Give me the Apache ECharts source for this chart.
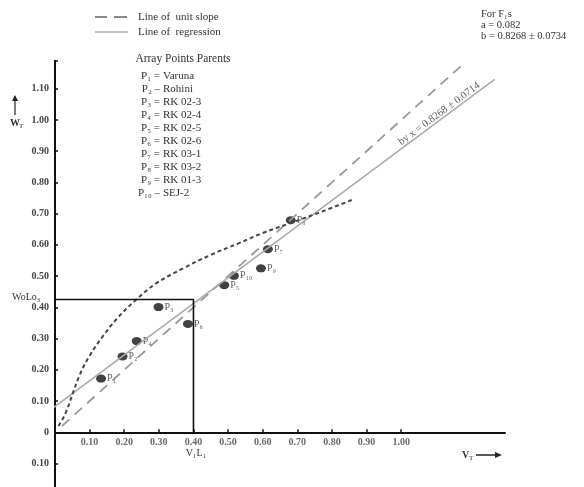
<!DOCTYPE html>
<html><head><meta charset="utf-8">
<script src="https://cdn.jsdelivr.net/npm/echarts@6/dist/echarts.min.js"></script>
<style>html,body{margin:0;padding:0;background:#fff}#c{width:584px;height:487px}</style>
</head><body><div id="c"></div>
<script>
// ---- data ----
var ptX = [0.133, 0.195, 0.236, 0.299, 0.384, 0.489, 0.517, 0.595, 0.615, 0.681];
var ptY = [0.172, 0.243, 0.292, 0.401, 0.347, 0.471, 0.501, 0.525, 0.586, 0.679];
var ptNames = ['P₁', 'P₂', 'P₄', 'P₃', 'P₆', 'P₅', 'P₁₀', 'P₉', 'P₇', 'P₈'];
var unitX = [0.02, 1.18];
var unitY = [0.02, 1.18];
var regX = [-0.044, 1.27];
var regY = [0.046, 1.13];
var curveX = [0.01, 0.03, 0.07, 0.10, 0.14, 0.18, 0.23, 0.29, 0.37, 0.45, 0.53, 0.60, 0.68, 0.76, 0.86];
var curveY = [0.02, 0.06, 0.18, 0.245, 0.31, 0.365, 0.42, 0.475, 0.525, 0.568, 0.605, 0.638, 0.67, 0.702, 0.745];
var guideX = [0, 0.40, 0.40];
var guideY = [0.425, 0.425, 0];
var xTicks = [0.1, 0.2, 0.3, 0.4, 0.5, 0.6, 0.7, 0.8, 0.9, 1.0];
var xTickLabels = ['0.10', '0.20', '0.30', '0.40', '0.50', '0.60', '0.70', '0.80', '0.90', '1.00'];
var parentCodes = ['P₁ =', 'P₂ –', 'P₃ =', 'P₄ =', 'P₅ =', 'P₆ =', 'P₇ =', 'P₈ =', 'P₉ =', 'P₁₀ –'];
var parentNames = ['Varuna', 'Rohini', 'RK 02-3', 'RK 02-4', 'RK 02-5', 'RK 02-6', 'RK 03-1', 'RK 03-2', 'RK 01-3', 'SEJ-2'];
var fitText = ['For F₁s', 'a = 0.082', 'b = 0.8268 ± 0.0734'];
var regLabel = 'by x = 0.8268 ± 0.0714';
var regLabelPos = [1.11, 1.02];

function zip(a, b) { return a.map(function (v, i) { return [v, b[i]]; }); }

var FONT = 'Liberation Serif';
var TXT = '#333';

var graphics = [];
// legend
graphics.push({type: 'line', shape: {x1: 95, y1: 17, x2: 107, y2: 17}, style: {stroke: '#888', lineWidth: 2}});
graphics.push({type: 'line', shape: {x1: 114, y1: 17, x2: 127, y2: 17}, style: {stroke: '#888', lineWidth: 2}});
graphics.push({type: 'text', x: 138, y: 17, style: {text: 'Line of  unit slope', font: '11px ' + FONT, fill: TXT, verticalAlign: 'middle'}});
graphics.push({type: 'line', shape: {x1: 95, y1: 32, x2: 128, y2: 32}, style: {stroke: '#aaa', lineWidth: 1.5}});
graphics.push({type: 'text', x: 138, y: 32, style: {text: 'Line of  regression', font: '11px ' + FONT, fill: TXT, verticalAlign: 'middle'}});
// top-right
fitText.forEach(function (t, i) {
  graphics.push({type: 'text', x: 481, y: 14 + i * 11, style: {text: t, font: '10.5px ' + FONT, fill: TXT, verticalAlign: 'middle'}});
});
// parents list
graphics.push({type: 'text', x: 183, y: 59, style: {text: 'Array Points Parents', font: '11.5px ' + FONT, fill: TXT, align: 'center', verticalAlign: 'middle'}});
parentCodes.forEach(function (c, i) {
  graphics.push({type: 'text', x: 160, y: 76 + i * 13, style: {text: c, font: '11px ' + FONT, fill: TXT, align: 'right', verticalAlign: 'middle'}});
  graphics.push({type: 'text', x: 163, y: 76 + i * 13, style: {text: parentNames[i], font: '11px ' + FONT, fill: TXT, verticalAlign: 'middle'}});
});
// axis titles
graphics.push({type: 'line', shape: {x1: 15, y1: 115, x2: 15, y2: 99}, style: {stroke: '#222', lineWidth: 1.2}});
graphics.push({type: 'polygon', shape: {points: [[12, 101], [18, 101], [15, 95]]}, style: {fill: '#222'}});
graphics.push({type: 'text', x: 10, y: 123, style: {text: 'W', font: 'bold 10px ' + FONT, fill: TXT, verticalAlign: 'middle'}});
graphics.push({type: 'text', x: 19, y: 126, style: {text: 'T', font: '7px ' + FONT, fill: TXT, verticalAlign: 'middle'}});
graphics.push({type: 'text', x: 462, y: 455, style: {text: 'V', font: 'bold 10px ' + FONT, fill: TXT, verticalAlign: 'middle'}});
graphics.push({type: 'text', x: 469, y: 458, style: {text: 'T', font: '7px ' + FONT, fill: TXT, verticalAlign: 'middle'}});
graphics.push({type: 'line', shape: {x1: 476, y1: 455, x2: 497, y2: 455}, style: {stroke: '#222', lineWidth: 1.5}});
graphics.push({type: 'polygon', shape: {points: [[495, 452], [495, 458], [502, 455]]}, style: {fill: '#222'}});
// special labels
graphics.push({type: 'text', x: 12, y: 297, style: {text: 'WoLo₃', font: '10px ' + FONT, fill: TXT, verticalAlign: 'middle'}});
graphics.push({type: 'text', x: 196, y: 453, style: {text: 'V₁L₁', font: '10px ' + FONT, fill: TXT, align: 'center', verticalAlign: 'middle'}});

var option = {
  animation: false,
  backgroundColor: '#fff',
  grid: {left: 55, right: 79, top: 60.7, bottom: -7.7, containLabel: false, outerBoundsMode: 'none'},
  xAxis: {
    type: 'value', min: 0, max: 1.3, interval: 0.1,
    axisLine: {onZero: true, lineStyle: {color: '#111', width: 2}},
    axisTick: {show: true, inside: true, length: 3, customValues: xTicks, lineStyle: {color: '#111', width: 1.5}},
    axisLabel: {show: false},
    splitLine: {show: false}
  },
  yAxis: {
    type: 'value', min: -0.2, max: 1.19, interval: 0.1,
    axisLine: {onZero: false, lineStyle: {color: '#111', width: 2}},
    axisTick: {show: true, inside: true, length: 3, lineStyle: {color: '#111', width: 1.5}},
    axisLabel: {margin: 6, fontFamily: FONT, fontSize: 10, color: '#444', fontWeight: 'bold',
      formatter: function (v) {
        if (v > 1.15 || v < -0.15) return '';
        if (Math.abs(v) < 1e-6) return '0';
        return Math.abs(v).toFixed(2);
      }},
    splitLine: {show: false}
  },
  graphic: graphics,
  series: [
    {type: 'line', data: zip(unitX, unitY), symbol: 'none', silent: true,
      lineStyle: {color: '#999', width: 1.8, type: [10, 7]}},
    {type: 'line', data: zip(regX, regY), symbol: 'none', clip: false, silent: true,
      lineStyle: {color: '#aaa', width: 1.5}},
    {type: 'line', data: zip(curveX, curveY), symbol: 'none', smooth: 0.4, silent: true,
      lineStyle: {color: '#444', width: 2, type: [4, 3]}},
    {type: 'line', data: zip(guideX, guideY), symbol: 'none', silent: true,
      lineStyle: {color: '#111', width: 1.6}},
    {type: 'scatter', data: zip(ptX, ptY), symbol: 'circle', symbolSize: [10, 8], silent: true,
      itemStyle: {color: '#111'},
      label: {show: true, position: 'right', distance: 1, fontFamily: FONT, fontSize: 10, color: '#333',
        formatter: function (p) { return ptNames[p.dataIndex]; }}},
    {type: 'scatter', data: [regLabelPos], symbolSize: 0, silent: true,
      label: {show: true, position: 'inside', rotate: 36.5, fontFamily: FONT, fontSize: 10.5, color: '#333',
        formatter: function () { return regLabel; }}},
    // x tick labels, placed on the y=0 axis line
    {type: 'scatter', data: xTicks.map(function (v) { return [v, 0]; }), symbolSize: 0, silent: true,
      label: {show: true, position: 'bottom', distance: 5, fontFamily: FONT, fontSize: 10, color: '#444', fontWeight: 'bold',
        formatter: function (p) { return xTickLabels[p.dataIndex]; }}}
  ]
};
var chart = echarts.init(document.getElementById('c'));
chart.setOption(option);
</script>
</body></html>
